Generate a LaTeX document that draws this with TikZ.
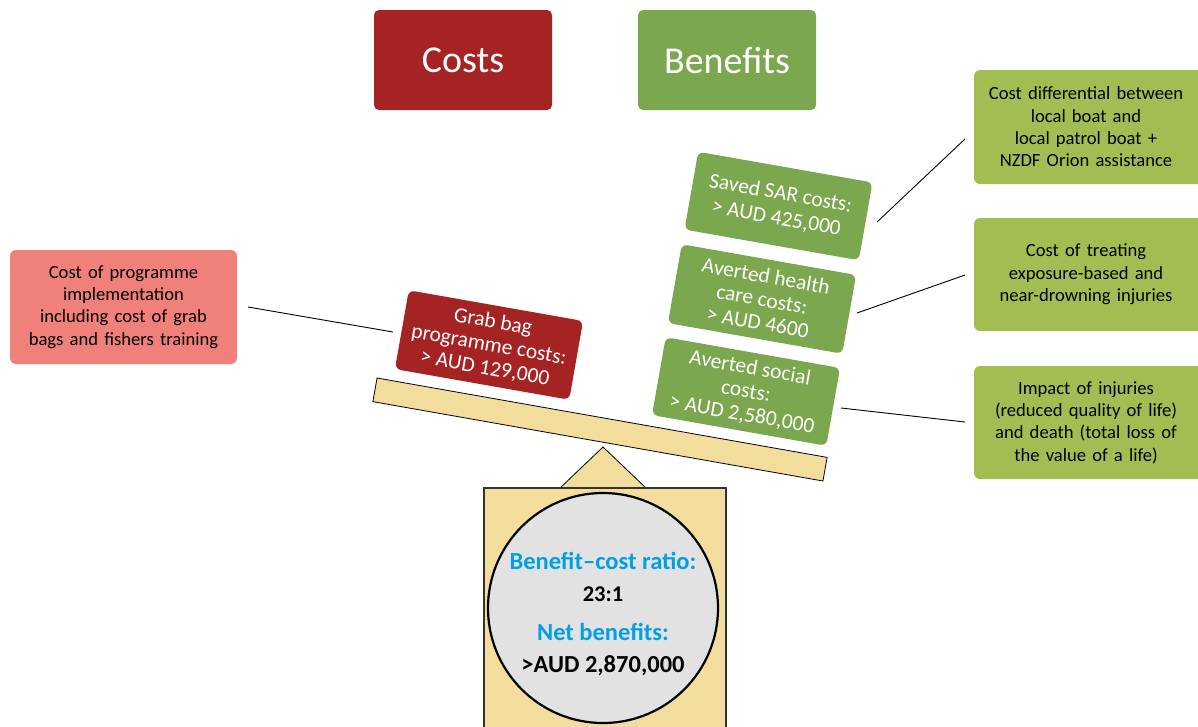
\documentclass[tikz,border=0pt]{standalone}
\usepackage{fontspec}
\setmainfont{Carlito}
\definecolor{cred}{HTML}{A62324}
\definecolor{cgreen}{HTML}{7BA74F}
\definecolor{colive}{HTML}{A2BE52}
\definecolor{cpink}{HTML}{F0807A}
\definecolor{cwheat}{HTML}{F2DD9C}
\definecolor{cgray}{HTML}{E2E2E2}
\definecolor{ccyan}{HTML}{00A0E2}
\begin{document}
\begin{tikzpicture}[x=1pt,y=-1pt,
  head/.style={rounded corners=5pt, inner sep=0pt, minimum width=178pt, minimum height=100pt, text=white, font=\fontsize{38}{44}\selectfont},
  tilt/.style={rounded corners=6pt, inner sep=0pt, minimum width=177pt, minimum height=80pt, rotate=-10, text=white, align=center, font=\fontsize{21.5}{23.5}\selectfont},
  note/.style={rounded corners=6pt, inner sep=0pt, minimum height=114pt, align=center, text=black, font=\fontsize{18.6}{22.4}\selectfont},
  conn/.style={draw=black, line width=0.9pt}]
\useasboundingbox (0,0) rectangle (1198,726);

% headers
\node[head, fill=cred] (costs) at (463,60) {Costs};
\node[head, fill=cgreen] (benefits) at (727,60) {Benefits};

% stand
\draw[fill=cwheat, draw=black, line width=0.8pt] (560,488) -- (603,447) -- (646,488) -- cycle;
\draw[fill=cwheat, draw=black!80, line width=1.2pt] (484,488) rectangle (726,735);
\node[circle, fill=cgray, draw=black, line width=2.2pt, minimum size=230pt, inner sep=0pt] (ratio) at (603,608) {};
\node[align=center, inner sep=0pt, font=\fontsize{24.5}{32}\selectfont\bfseries] (ratiotext) at (603,614)
  {\textcolor{ccyan}{Benefit–cost ratio:}\\ {\fontsize{22.5}{32}\selectfont 23:1}\\[7pt]
   \textcolor{ccyan}{Net benefits:}\\ >AUD 2,870,000};

% beam
\node[rectangle, rotate=-10, fill=cwheat, draw=black, line width=0.8pt, minimum width=457pt, minimum height=24pt, inner sep=0pt] (beam) at (600,429.5) {};

% cost side
\node[note, fill=cpink, minimum width=227pt, text width=225pt] (impl) at (123.5,307)
  {Cost of programme\\ implementation\\ including cost of grab\\ bags and fishers training};
\node[tilt, fill=cred] (grab) at (489,345) {Grab bag\\ programme costs:\\ > AUD 129,000};

% benefit side
\node[tilt, fill=cgreen, minimum height=79pt, font=\fontsize{21.5}{25}\selectfont] (sar) at (778.5,206) {Saved SAR costs:\\ > AUD 425,000};
\node[tilt, fill=cgreen] (health) at (762,299) {Averted health\\ care costs:\\ > AUD 4600};
\node[tilt, fill=cgreen, minimum height=79pt] (social) at (746,391.5) {Averted social\\ costs:\\ > AUD 2,580,000};

\node[note, fill=colive, minimum width=230pt, text width=225pt] (n1) at (1089,127)
  {\hspace*{-6pt}Cost differential between\\ \hspace*{-6pt}local boat and\\ \hspace*{-6pt}local patrol boat +\\ \hspace*{-6pt}NZDF Orion assistance};
\node[note, fill=colive, minimum width=230pt, text width=225pt, minimum height=113pt] (n2) at (1089,274.5)
  {\hspace*{-6pt}Cost of treating\\ \hspace*{-6pt}exposure-based and\\ \hspace*{-6pt}near-drowning injuries};
\node[note, fill=colive, minimum width=230pt, text width=225pt, minimum height=113pt] (n3) at (1089,422.5)
  {\hspace*{-6pt}Impact of injuries\\ \hspace*{-6pt}(reduced quality of life)\\ \hspace*{-6pt}and death (total loss of\\ \hspace*{-6pt}the value of a life)};

% connectors
\coordinate (c0a) at (248,307);
\coordinate (c0b) at (393,332);
\coordinate (c1a) at (877,222);
\coordinate (c1b) at (965,139);
\coordinate (c2a) at (857,313);
\coordinate (c2b) at (965,275);
\coordinate (c3a) at (841,408);
\coordinate (c3b) at (965,422);
\draw[conn] (c0a) -- (c0b);
\draw[conn] (c1a) -- (c1b);
\draw[conn] (c2a) -- (c2b);
\draw[conn] (c3a) -- (c3b);
\end{tikzpicture}
\end{document}
